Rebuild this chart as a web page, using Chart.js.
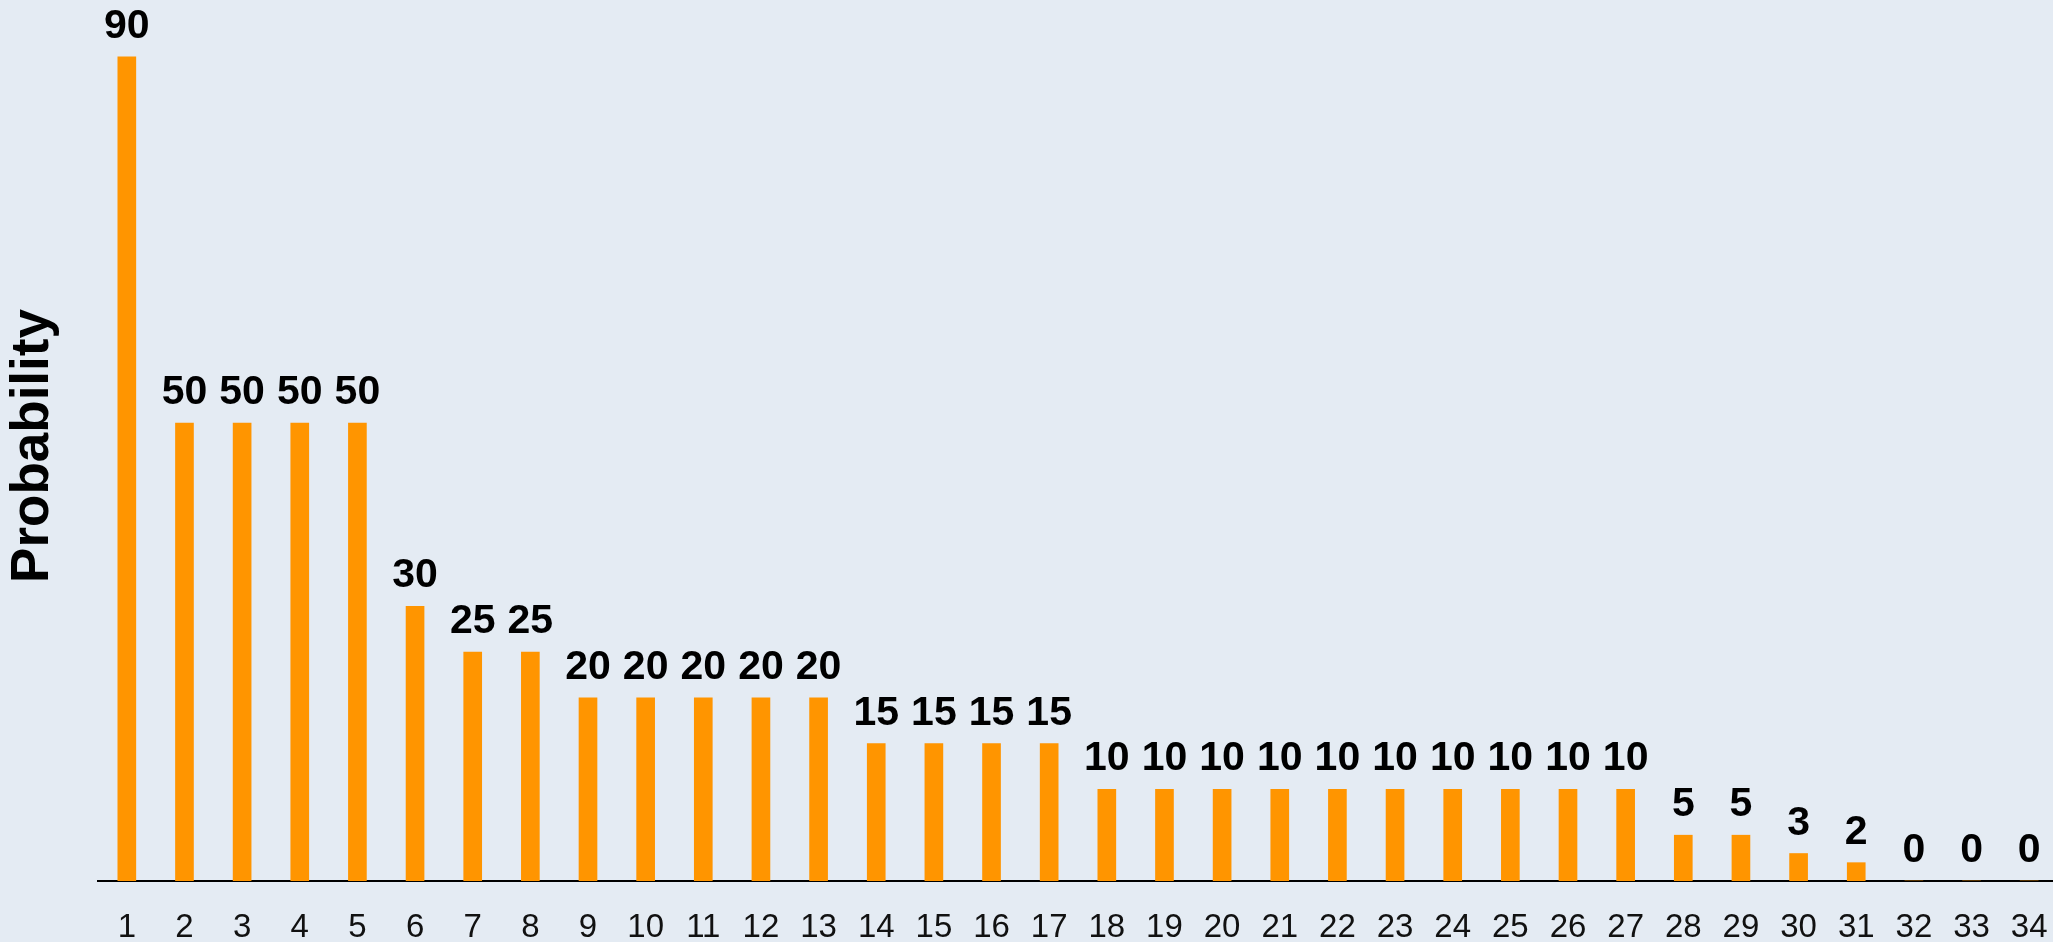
<!DOCTYPE html>
<html>
<head>
<meta charset="utf-8">
<script src="https://cdn.jsdelivr.net/npm/chart.js@4/dist/chart.umd.min.js"></script>
<style>
  html, body { margin: 0; padding: 0; background: #e4ebf3; overflow: hidden; }
  #wrap { position: relative; width: 2058px; height: 975px; }
</style>
</head>
<body>
<div id="wrap"><canvas id="probChart"></canvas></div>
<script>
var positions = ['1','2','3','4','5','6','7','8','9','10','11','12','13','14','15','16','17',
                 '18','19','20','21','22','23','24','25','26','27','28','29','30','31','32','33','34'];
var probability = [90, 50, 50, 50, 50, 30, 25, 25, 20, 20, 20, 20, 20, 15, 15, 15, 15,
                   10, 10, 10, 10, 10, 10, 10, 10, 10, 10, 5, 5, 3, 2, 0, 0, 0];

var FONT = "'Liberation Sans', Arial, sans-serif";

// value written above every bar
var barValues = {
  id: 'barValues',
  afterDatasetsDraw: function (chart) {
    var ctx = chart.ctx;
    var meta = chart.getDatasetMeta(0);
    ctx.save();
    ctx.font = 'bold 41px ' + FONT;
    ctx.fillStyle = '#000';
    ctx.textAlign = 'center';
    ctx.textBaseline = 'alphabetic';
    meta.data.forEach(function (bar, i) {
      ctx.fillText(String(probability[i]), bar.x, bar.y - 19);
    });
    ctx.restore();
  }
};

var ctx = document.getElementById('probChart').getContext('2d');
var probChart = new Chart(ctx, {
  type: 'bar',
  data: {
    labels: positions,
    datasets: [{
      data: probability,
      backgroundColor: '#ff9500',
      borderWidth: 0,
      barThickness: 18
    }]
  },
  options: {
    responsive: true,
    maintainAspectRatio: false,
    animation: false,
    layout: { padding: { top: 11, right: 0, bottom: 0, left: 0 } },
    plugins: {
      legend: { display: false },
      tooltip: { enabled: false }
    },
    scales: {
      x: {
        grid: { display: false, drawTicks: false },
        border: { display: true, color: '#000', width: 2 },
        ticks: {
          color: '#111',
          padding: 8,
          font: { family: FONT, size: 33, lineHeight: 2.364 },
          maxRotation: 0,
          autoSkip: false
        }
      },
      y: {
        min: 0,
        max: 95,
        grid: { display: false, drawTicks: false },
        border: { display: false },
        ticks: { display: false },
        title: {
          display: true,
          text: 'Probability',
          color: '#000',
          font: { family: FONT, size: 53, weight: 'bold', lineHeight: 1 },
          padding: { top: 7, bottom: 38 }
        }
      }
    }
  },
  plugins: [barValues]
});
</script>
</body>
</html>
